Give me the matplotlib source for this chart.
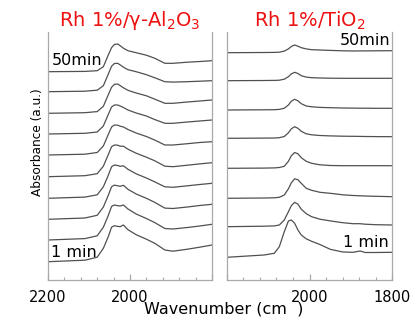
import matplotlib
matplotlib.use('Agg')
from matplotlib import pyplot as plt
from matplotlib.ticker import MultipleLocator

plt.rcParams['font.family'] = 'DejaVu Sans'
plt.rcParams['mathtext.default'] = 'regular'

# Rh 1%/g-Al2O3 : wavenumber grid and spectra (bottom = 1 min, top = 50 min)
wn_al = [2200, 2110, 2080, 2065, 2053, 2045, 2038, 2030, 2024, 2016,
         2005, 1985, 1960, 1940, 1915, 1895, 1860, 1830, 1800]
base_al = [18.3, 40, 60.7, 81.7, 103.3, 125, 146, 166.7, 188.3, 208.3]
spec_al = [
    [0, 1.5, 4.5, 13.4, 25, 34.5, 36, 35.3, 35, 36.7, 32, 27, 22.5, 18.5, 11.7, 10.5, 12.5, 14.5, 16.7],
    [0, 1.4, 4.2, 12.8, 24.5, 33.5, 35, 34.3, 34, 35, 31, 26, 21.5, 17.5, 11.5, 11, 12.5, 14, 15.7],
    [0, 1.3, 4, 12.2, 24, 32.5, 34.2, 33.5, 33, 34, 30, 25.3, 21, 17, 11.2, 10.8, 12.3, 13.8, 15],
    [0, 1.2, 3.5, 11.5, 23, 31.5, 33.3, 32.8, 32, 32.5, 29, 24.5, 20.3, 16.5, 11.5, 11, 12.5, 13.8, 15],
    [0, 1, 3, 10.5, 22, 30, 31.7, 31.5, 30.5, 30.5, 27.5, 23.5, 19.5, 16, 10.5, 10, 11.5, 12.8, 14],
    [0, 0.8, 2.5, 9, 20.5, 28, 30, 29.8, 28.8, 28, 25.5, 22, 18.5, 15, 10, 10, 11.3, 12.5, 13.3],
    [0, 0.7, 2, 8, 19.5, 27, 29, 29, 28, 26.5, 24, 21, 18, 14.5, 10.7, 10.7, 12, 13, 14],
    [0, 0.6, 1.7, 7, 18.5, 26, 29, 29.3, 27.7, 25.5, 23, 20.3, 17.5, 14.2, 10, 10, 11.3, 12.3, 13.3],
    [0, 0.5, 1.5, 6, 17.5, 25.5, 28.2, 28.4, 26.8, 24.5, 22, 20, 17, 14, 10, 9.6, 10, 10.5, 11],
    [0, 0.3, 1, 5, 16.7, 24, 27.3, 27.7, 26, 23.5, 21, 19, 16.5, 13.5, 8.4, 8.4, 9.5, 10.2, 11],
]

# Rh 1%/TiO2
wn_ti = [2200, 2110, 2085, 2073, 2061, 2051, 2044, 2036, 2028, 2020,
         2008, 1995, 1975, 1950, 1920, 1895, 1878, 1866, 1840, 1800]
base_ti = [22.7, 53.3, 81.7, 111.7, 141.7, 170, 199.3, 227.3]
spec_ti = [
    [0, 2.3, 4, 10.6, 25.6, 36.3, 37.3, 34, 27.3, 22.3, 18.5, 16, 12.8, 8, 5.3, 5, 6.3, 4.8, 4.8, 5],
    [0, 0.5, 0.8, 1.7, 6.7, 15, 21, 24.4, 22.5, 17.5, 13, 10, 7.5, 5.8, 4, 3, 3, 2.5, 2, 1.7],
    [0, 0.3, 0.5, 1, 3.3, 9.5, 15.5, 19.5, 18.5, 15, 10, 8, 6, 5, 3.5, 2.8, 2.5, 2.3, 2, 1.6],
    [0, 0.2, 0.4, 0.8, 2, 7, 12.5, 15.8, 14.5, 10.6, 7, 5, 3.5, 2.8, 2.6, 2.6, 2.6, 2.6, 2.6, 2.6],
    [0, 0.2, 0.3, 0.6, 1.8, 5.5, 9.5, 11.6, 10, 7, 4.5, 3.5, 2.8, 2.4, 2.1, 2, 1.9, 1.8, 1.7, 1.6],
    [0, 0.2, 0.3, 0.6, 1.8, 5, 8.8, 10.7, 9.2, 6.3, 4, 3.2, 2.6, 2.3, 2, 1.9, 1.8, 1.8, 1.7, 1.7],
    [0, 0.2, 0.3, 0.5, 1.5, 4, 6.8, 8.4, 7.2, 5, 3.6, 3, 2.7, 2.5, 2.4, 2.4, 2.4, 2.4, 2.4, 2.4],
    [0, 0.2, 0.3, 0.5, 1.6, 3.8, 6.2, 7.7, 6.5, 5, 3.8, 3, 2.7, 2.3, 1.9, 1.7, 1.8, 1.8, 1.9, 2],
]

titles = [r'Rh 1%/γ-Al$_2$O$_3$', r'Rh 1%/TiO$_2$']
ticklabels = [['2200', '2000', ''], ['', '2000', '1800']]

linecol = '#505050'
spinecol = '#a8a8a8'

fig = plt.figure(figsize=(4.12, 3.22), dpi=100)
ax1 = fig.add_axes([48/412, 42/322, 164/412, 248/322])
ax2 = fig.add_axes([226.7/412, 42/322, 165.7/412, 248/322])

for ax, wn, base, spec, title, tl in zip([ax1, ax2], [wn_al, wn_ti], [base_al, base_ti],
                                        [spec_al, spec_ti], titles, ticklabels):
    for b, s in zip(base, spec):
        ax.plot(wn, [b + v for v in s], color=linecol, lw=0.9)
    ax.set_xlim(2200, 1800)
    ax.set_ylim(0, 248)
    ax.set_yticks([])
    ax.set_xticks([2200, 2000, 1800])
    ax.set_xticklabels(tl)
    ax.xaxis.set_minor_locator(MultipleLocator(40))
    ax.tick_params(axis='x', which='both', direction='in', color=spinecol,
                   labelsize=10.5, pad=7)
    ax.tick_params(axis='x', which='major', length=4.5, width=0.9)
    ax.tick_params(axis='x', which='minor', length=2.5, width=0.8)
    ax.spines['top'].set_visible(False)
    for side in ['left', 'right', 'bottom']:
        ax.spines[side].set_color(spinecol)
        ax.spines[side].set_linewidth(0.9)
    ax.set_title(title, color='#ee1111', fontsize=14, pad=4)

ax1.text(0.023, 0.867, '50min', transform=ax1.transAxes, fontsize=11.5, va='baseline')
ax1.text(0.017, 0.0915, '1 min', transform=ax1.transAxes, fontsize=11.5, va='baseline')
ax2.text(0.985, 0.948, '50min', transform=ax2.transAxes, fontsize=11.5, va='baseline', ha='right')
ax2.text(0.975, 0.134, '1 min', transform=ax2.transAxes, fontsize=11.5, va='baseline', ha='right')

fig.text(37.5/412, (322-142.5)/322, 'Absorbance (a.u.)', rotation=90,
         ha='center', va='center', fontsize=8.7)
fig.text(224/412, (322-313.3)/322, 'Wavenumber (cm  )', ha='center', va='baseline',
         fontsize=11.5)

fig.savefig('out.png', dpi=100)
